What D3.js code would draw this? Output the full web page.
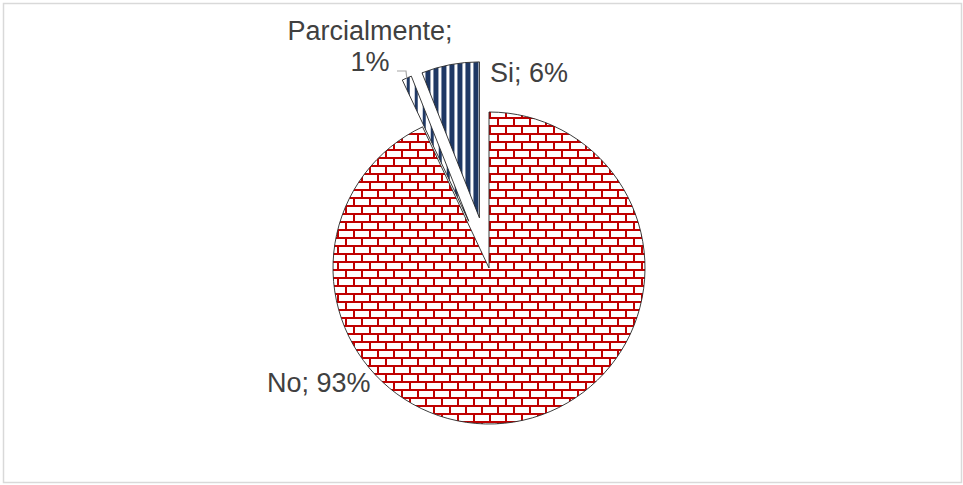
<!DOCTYPE html>
<html>
<head>
<meta charset="utf-8">
<script src="https://cdn.jsdelivr.net/npm/d3@7"></script>
<style>
  html, body { margin: 0; padding: 0; background: #fff; }
  svg { display: block; }
  text { font-family: "Liberation Sans", Arial, sans-serif; }
</style>
</head>
<body>
<svg id="chart" width="963" height="485"></svg>
<script>
// Survey answers, in clockwise order from 12 o'clock
const categories = ["No", "Parcialmente", "Si"];
const values = [93, 1, 6];
const labels = ["No; 93%", "Parcialmente;\n1%", "Si; 6%"];
const explode = [0, 51, 51];

const W = 963, H = 485;
const cx = 489, cy = 268, R = 156;

const svg = d3.select("#chart");
const defs = svg.append("defs");

// Brick fill for "No"
const brick = defs.append("pattern")
  .attr("id", "brick").attr("patternUnits", "userSpaceOnUse")
  .attr("width", 16).attr("height", 16).attr("x", 0).attr("y", 1);
brick.append("rect").attr("width", 16).attr("height", 16).attr("fill", "#fff");
brick.append("rect").attr("y", 0).attr("width", 16).attr("height", 2).attr("fill", "#C00000");
brick.append("rect").attr("y", 8).attr("width", 16).attr("height", 2).attr("fill", "#C00000");
brick.append("rect").attr("x", 0).attr("y", 0).attr("width", 2).attr("height", 8).attr("fill", "#C00000");
brick.append("rect").attr("x", 8).attr("y", 8).attr("width", 2).attr("height", 8).attr("fill", "#C00000");

// Wide vertical stripes for "Si"
const wide = defs.append("pattern")
  .attr("id", "vwide").attr("patternUnits", "userSpaceOnUse")
  .attr("width", 8).attr("height", 8).attr("x", 2);
wide.append("rect").attr("width", 8).attr("height", 8).attr("fill", "#fff");
wide.append("rect").attr("width", 5).attr("height", 8).attr("fill", "#1F3864");

// Narrow vertical stripes for "Parcialmente"
const narrow = defs.append("pattern")
  .attr("id", "vnarrow").attr("patternUnits", "userSpaceOnUse")
  .attr("width", 8).attr("height", 8).attr("x", 2);
narrow.append("rect").attr("width", 8).attr("height", 8).attr("fill", "#fff");
narrow.append("rect").attr("width", 3).attr("height", 8).attr("fill", "#1F3864");

const fills = d3.scaleOrdinal().domain(categories)
  .range(["url(#brick)", "url(#vnarrow)", "url(#vwide)"]);

// Outer frame
svg.append("rect")
  .attr("x", 3.5).attr("y", 3.5).attr("width", W - 5).attr("height", H - 6)
  .attr("fill", "#fff").attr("stroke", "#D9D9D9").attr("stroke-width", 1.5);

const pie = d3.pie().sort(null).value(d => d.v).startAngle(0).endAngle(2 * Math.PI);
const arcs = pie(categories.map((c, i) => ({ c, v: values[i], ex: explode[i], label: labels[i] })));
const arc = d3.arc().innerRadius(0).outerRadius(R);

function offset(a) {
  const mid = (a.startAngle + a.endAngle) / 2;
  return [Math.sin(mid) * a.data.ex, -Math.cos(mid) * a.data.ex];
}

const g = svg.append("g").attr("transform", `translate(${cx},${cy})`);

g.selectAll("path.slice").data(arcs).join("path")
  .attr("class", "slice")
  .attr("transform", d => `translate(${offset(d)})`)
  .attr("d", arc)
  .attr("fill", d => fills(d.data.c))
  .attr("stroke", "#262626")
  .attr("stroke-width", 0.9)
  .attr("stroke-linejoin", "round");

// Leader line for the small slice
const parc = arcs[1];
const po = offset(parc);
const pm = (parc.startAngle + parc.endAngle) / 2;
const tip = [po[0] + Math.sin(pm) * R, po[1] - Math.cos(pm) * R];
g.append("polyline")
  .attr("points", [[-92, -197], [-83, -197], tip].map(p => p.join(",")).join(" "))
  .attr("fill", "none").attr("stroke", "#A6A6A6").attr("stroke-width", 1.2);

// Data labels
const labelPos = [
  { x: 267, y: 392, anchor: "start" },
  { x: 370, y: 40, anchor: "middle" },
  { x: 490, y: 82, anchor: "start" }
];
arcs.forEach((a, i) => {
  const t = svg.append("text")
    .attr("x", labelPos[i].x).attr("y", labelPos[i].y)
    .attr("text-anchor", labelPos[i].anchor)
    .attr("font-size", 27).attr("fill", "#404040");
  a.data.label.split("\n").forEach((line, k) => {
    t.append("tspan").attr("x", labelPos[i].x).attr("dy", k === 0 ? 0 : 31).text(line);
  });
});
</script>
</body>
</html>
